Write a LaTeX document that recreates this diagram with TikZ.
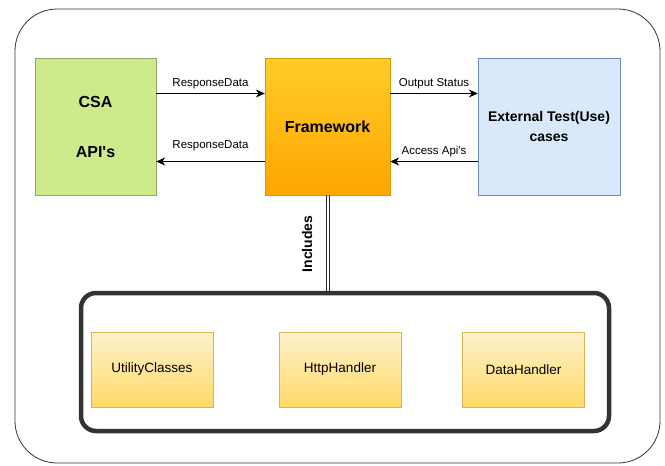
\documentclass[tikz,border=0pt]{standalone}
\usepackage{fontspec}
\setmainfont{Liberation Sans}
\usetikzlibrary{arrows.meta}
\definecolor{apigreen}{HTML}{CDEB8B}
\definecolor{apiedge}{HTML}{8FA868}
\definecolor{fwtop}{HTML}{FFCD28}
\definecolor{fwbot}{HTML}{FFA500}
\definecolor{fwedge}{HTML}{D79B00}
\definecolor{extblue}{HTML}{DAE8FC}
\definecolor{extedge}{HTML}{6C8EBF}
\definecolor{modtop}{HTML}{FFF2CC}
\definecolor{modbot}{HTML}{FFD966}
\definecolor{modedge}{HTML}{D6B656}
\tikzset{
  mainbox/.style={draw,minimum height=137pt,align=center,font=\bfseries\fontsize{16}{20}\selectfont,inner sep=0pt},
  modbox/.style={draw=modedge,top color=modtop,bottom color=modbot,minimum width=122pt,minimum height=75pt,font=\fontsize{13.5}{16}\selectfont},
  flow/.style={-{Stealth[length=9pt,width=8pt]},line width=0.9pt},
  flowlabel/.style={font=\fontsize{11.5}{13}\selectfont,inner sep=1pt},
  link/.style={line width=0.8pt,black!85}
}
\begin{document}
\begin{tikzpicture}[x=1pt,y=-1pt]
  \useasboundingbox (0,0) rectangle (665,466);
  % Outer frame
  \draw [line width=0.8pt,rounded corners=42pt,black!80] (15,9) rectangle (660,463);

  % Main blocks
  \node [mainbox,minimum width=121pt,fill=apigreen,draw=apiedge] (csa) at (95.5,126.5) {CSA\\[30pt]API\textquotesingle s};
  \node [mainbox,minimum width=125pt,top color=fwtop,bottom color=fwbot,draw=fwedge] (fw) at (327.5,126.5) {Framework};
  \node [mainbox,minimum width=142pt,fill=extblue,draw=extedge,font=\bfseries\fontsize{14}{20}\selectfont] (ext) at (549,126.5) {External Test(Use)\\cases};

  % Drawing data flows
  \draw [flow] ([yshift=33pt]csa.east) -- node [flowlabel,above=3pt] {ResponseData} ([yshift=33pt]fw.west);
  \draw [flow] ([yshift=-35pt]fw.west) -- node [flowlabel,above=9pt] {ResponseData} ([yshift=-35pt]csa.east);
  \draw [flow] ([yshift=33pt]fw.east) -- node [flowlabel,above=3pt] {Output Status} ([yshift=33pt]ext.west);
  \draw [flow] ([yshift=-35pt]ext.west) -- node [flowlabel,above=3pt] {Access Api\textquotesingle s} ([yshift=-35pt]fw.east);

  % Module container
  \node [draw=black!80,line width=4.5pt,rounded corners=15pt,minimum width=528pt,minimum height=138pt] (lib) at (345,362) {};
  \node [modbox] (util) at (152,369.5) {UtilityClasses};
  \node [modbox] (http) at (340,369.5) {HttpHandler};
  \node [modbox] (data) at (523.5,369.5) {DataHandler};

  % Drawing link Includes (double line)
  \draw [link] ([xshift=-1.6pt]fw.south) -- ([xshift=-1.6pt]fw.south |- lib.north);
  \draw [link] ([xshift=1.6pt]fw.south) -- ([xshift=1.6pt]fw.south |- lib.north);
  \node [rotate=90,font=\bfseries\fontsize{14}{16}\selectfont] (incl) at (307,244) {Includes};
\end{tikzpicture}
\end{document}
